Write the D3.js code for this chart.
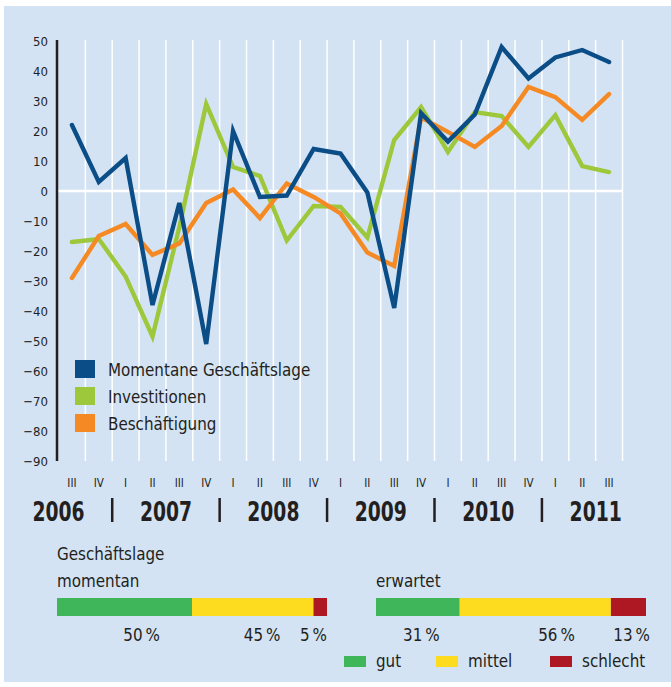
<!DOCTYPE html>
<html>
<head>
<meta charset="utf-8">
<script src="https://cdn.jsdelivr.net/npm/d3@7"></script>
<style>
    body { margin: 0; background: #fff; }
    svg { display: block; }
    text { font-family: "Liberation Sans Narrow", "Arial Narrow", "DejaVu Sans Condensed", sans-serif; fill: #231f20; }
</style>
</head>
<body>
<div id="chart"></div>
<script>
// quarters from III/2006 to III/2011
var quarters = ["III", "IV", "I", "II", "III", "IV", "I", "II", "III", "IV", "I", "II", "III", "IV", "I", "II", "III", "IV", "I", "II", "III"];
var years = ["2006", "2007", "2008", "2009", "2010", "2011"];
var yTicks = [50, 40, 30, 20, 10, 0, -10, -20, -30, -40, -50, -60, -70, -80, -90];

var geschaeftslage = [22, 3, 11, -38, -4, -51, 20, -2, -1.5, 14, 12.5, -0.5, -39, 26, 16.5, 25.5, 48, 37.5, 44.5, 47, 43];
var investitionen = [-17, -16, -28.5, -48.5, -12, 29, 8, 5, -16.5, -5, -5.3, -15.5, 17, 28, 13, 26.3, 25, 14.7, 25.3, 8.3, 6.3];
var beschaeftigung = [-29, -15, -11, -21.3, -17.5, -4, 0.5, -9, 2.5, -2, -7.5, -20.5, -25, 24.5, 19.7, 14.7, 21.7, 34.7, 31.3, 23.7, 32.3];

var seriesNames = ["Momentane Geschäftslage", "Investitionen", "Beschäftigung"];
var seriesColors = ["#0b4d86", "#9dc83b", "#f58a25"];

// Geschäftslage distribution (gut, mittel, schlecht)
var ratingNames = ["gut", "mittel", "schlecht"];
var ratingColors = ["#3fb65a", "#fddc1f", "#ad1822"];
var momentan = [50, 45, 5];
var erwartet = [31, 56, 13];

var svgWidth = 671;
var svgHeight = 687;

var svg = d3.select("#chart")
    .append("svg")
    .attr("width", svgWidth)
    .attr("height", svgHeight);

// condensed text: fonts here are wider than the original, squeeze horizontally
function label(parent, x, y, txt, size, squeeze, anchor) {
    return parent.append("text")
        .attr("transform", `translate(${x}, ${y}) scale(${squeeze}, 1)`)
        .attr("text-anchor", anchor || "start")
        .style("font-size", size + "px")
        .text(txt);
}

// light blue panel
svg.append("rect")
    .attr("x", 4)
    .attr("y", 6)
    .attr("width", svgWidth - 4)
    .attr("height", 676)
    .attr("fill", "#d4e3f3");

var plotTop = 40;
var plotBottom = 461;

var xScale = d3.scaleBand()
    .domain(d3.range(quarters.length))
    .range([58.5, 622.5]);

var yScale = d3.scaleLinear()
    .domain([-90, 50])
    .range([461, 41]);

// vertical white gridlines at the quarter boundaries
svg.append("g")
    .selectAll("line")
    .data(d3.range(quarters.length))
    .enter()
    .append("line")
    .attr("x1", d => xScale(d) + xScale.bandwidth())
    .attr("x2", d => xScale(d) + xScale.bandwidth())
    .attr("y1", plotTop)
    .attr("y2", plotBottom)
    .attr("stroke", "#fff")
    .attr("stroke-width", 1.5);

// zero line
svg.append("line")
    .attr("x1", 57)
    .attr("x2", xScale.range()[1])
    .attr("y1", yScale(0))
    .attr("y2", yScale(0))
    .attr("stroke", "#fff")
    .attr("stroke-width", 2.5);

// y axis
var leftAxis = d3.axisLeft(yScale)
    .tickValues(yTicks)
    .tickSize(0)
    .tickPadding(9);

var yAxisGroup = svg.append("g")
    .attr("transform", "translate(57, 0)")
    .call(leftAxis);
yAxisGroup.select(".domain").remove();
yAxisGroup.selectAll("text")
    .style("font-size", "13px")
    .attr("fill", "#231f20");

svg.append("line")
    .attr("x1", 57)
    .attr("x2", 57)
    .attr("y1", plotTop)
    .attr("y2", plotBottom)
    .attr("stroke", "#231f20")
    .attr("stroke-width", 2.5);

// lines
var line = d3.line()
    .x((d, i) => xScale(i) + xScale.bandwidth() / 2)
    .y(d => yScale(d));

var drawOrder = [
    { values: investitionen, color: seriesColors[1] },
    { values: beschaeftigung, color: seriesColors[2] },
    { values: geschaeftslage, color: seriesColors[0] }
];

svg.append("g")
    .selectAll("path")
    .data(drawOrder)
    .enter()
    .append("path")
    .attr("d", d => line(d.values))
    .attr("fill", "none")
    .attr("stroke", d => d.color)
    .attr("stroke-width", 4.4)
    .attr("stroke-linecap", "round")
    .attr("stroke-linejoin", "miter");

// legend
var legend = svg.append("g")
    .attr("transform", "translate(75, 360)");

seriesNames.forEach(function (name, i) {
    legend.append("rect")
        .attr("y", i * 27)
        .attr("width", 20)
        .attr("height", 18)
        .attr("fill", seriesColors[i]);
    label(legend, 33, i * 27 + 16, name, 18.5, 0.91);
});

// quarter labels
svg.append("g")
    .selectAll("text")
    .data(quarters)
    .enter()
    .append("text")
    .attr("x", (d, i) => xScale(i) + xScale.bandwidth() / 2)
    .attr("y", 487)
    .attr("text-anchor", "middle")
    .style("font-size", "11.5px")
    .text(d => d);

// year labels and separators
var step = xScale.step();
var firstSep = xScale(1) + step; // boundary between IV/2006 and I/2007

svg.append("g")
    .selectAll("line")
    .data(d3.range(years.length - 1))
    .enter()
    .append("line")
    .attr("x1", d => firstSep + d * 4 * step)
    .attr("x2", d => firstSep + d * 4 * step)
    .attr("y1", 498)
    .attr("y2", 522)
    .attr("stroke", "#231f20")
    .attr("stroke-width", 2.5);

var yearGroup = svg.append("g");
years.forEach(function (yr, i) {
    label(yearGroup, firstSep + (i - 0.5) * 4 * step, 521, yr, 26, 0.8, "middle")
        .style("font-weight", "bold");
});

// Geschäftslage bars
label(svg, 57, 560, "Geschäftslage", 18.5, 0.91);

function drawStack(values, x0, title, labelOffsets) {
    var barScale = d3.scaleLinear()
        .domain([0, 100])
        .range([x0, x0 + 270]);
    var starts = [0];
    values.forEach((v, i) => starts.push(starts[i] + v));

    label(svg, x0, 587, title, 18.5, 0.91);

    svg.append("g")
        .selectAll("rect")
        .data(values)
        .enter()
        .append("rect")
        .attr("x", (d, i) => barScale(starts[i]))
        .attr("y", 598)
        .attr("width", d => barScale(d) - barScale(0))
        .attr("height", 18)
        .attr("fill", (d, i) => ratingColors[i]);

    var g = svg.append("g");
    values.forEach(function (v, i) {
        label(g, barScale(starts[i + 1]) + labelOffsets[i], 641, v + "\u2009%", 18.5, 0.91, "end");
    });
}

drawStack(momentan, 57, "momentan", [-32, -33, 0]);
drawStack(erwartet, 376, "erwartet", [-20, -36, 4]);

// rating legend
var ratingLegendX = [344, 436, 550];
var ratingLegend = svg.append("g");
ratingNames.forEach(function (name, i) {
    ratingLegend.append("rect")
        .attr("x", ratingLegendX[i])
        .attr("y", 656)
        .attr("width", 22)
        .attr("height", 11)
        .attr("fill", ratingColors[i]);
    label(ratingLegend, ratingLegendX[i] + 32, 667, name, 18.5, 0.91);
});
</script>
</body>
</html>
